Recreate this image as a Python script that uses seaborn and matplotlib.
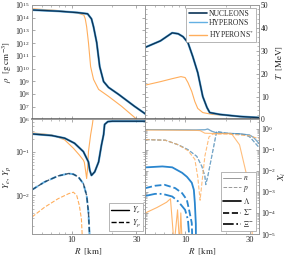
import matplotlib
matplotlib.use("Agg")
import matplotlib.pyplot as plt
import matplotlib.ticker as mticker
from matplotlib.lines import Line2D
import seaborn as sns

# colours of the three models
c_nuc = "#0c3456"
c_hyp = "#63b0e3"
c_hys = "#ffae5c"
c_lam = "#2a86cf"

# density profile [g/cm^3]
r_rho_nuc = [5.1, 8.0, 11.0, 13.1, 14.0, 14.5, 15.3, 16.1, 17.2, 18.7, 22.2, 29.0, 35.0]
rho_nuc = [4.0e14, 3.2e14, 2.5e14, 2.0e14, 8.0e13, 1.9e13, 1.1e12, 1.4e10, 9.5e8, 3.3e8, 9.3e7, 1.1e7, 2.7e6]
r_rho_hys = [5.1, 8.0, 11.0, 12.3, 12.6, 12.9, 13.3, 13.8, 14.5, 15.8, 18.7, 23.3, 29.0, 32.0]
rho_hys = [5.0e14, 3.6e14, 2.3e14, 1.6e14, 8.0e13, 1.9e13, 1.1e12, 1.4e10, 1.4e9, 2.3e8, 6.5e7, 1.1e7, 1.5e6, 6.0e5]

# temperature profile [MeV]
r_t_nuc = [5.1, 6.58, 8.03, 8.89, 9.67, 10.5, 11.4, 12.4, 13.5, 14.5, 15.2, 18.0, 25.2, 35.0]
t_nuc = [31.5, 34.3, 37.8, 37.4, 36.1, 33.5, 27.4, 20.4, 10.0, 5.2, 3.0, 2.2, 1.3, 0.8]
r_t_hys = [5.1, 6.58, 8.03, 9.32, 10.0, 10.5, 11.2, 11.8, 12.4, 13.5, 15.9, 25.2, 35.0]
t_hys = [15.0, 16.5, 17.8, 18.7, 18.3, 16.1, 12.2, 7.8, 4.8, 3.0, 2.2, 1.3, 0.9]

# electron and proton fractions
r_ye_nuc = [5.1, 7.13, 8.88, 10.5, 12.2, 13.3, 13.6, 14.0, 14.8, 15.8, 16.6, 17.2, 17.5, 18.5, 20.0, 35.0]
ye_nuc = [0.26, 0.239, 0.208, 0.159, 0.102, 0.059, 0.038, 0.029, 0.035, 0.059, 0.146, 0.25, 0.43, 0.5, 0.51, 0.51]
r_ye_hys = [5.1, 7.13, 8.88, 10.3, 11.4, 12.2, 12.4, 12.7, 12.9, 13.1, 13.3, 13.8, 14.2, 14.6, 35.0]
ye_hys = [0.275, 0.248, 0.19, 0.122, 0.085, 0.065, 0.058, 0.035, 0.0245, 0.042, 0.102, 0.248, 0.42, 0.8, 0.8]
r_yp_nuc = [5.1, 6.3, 7.93, 9.5, 10.3, 11.2, 12.2, 12.9, 13.3, 13.6, 13.7]
yp_nuc = [0.0135, 0.0204, 0.0281, 0.032, 0.0308, 0.0267, 0.0187, 0.01, 0.0041, 0.001, 1e-4]
r_yp_hys = [5.1, 6.3, 7.93, 9.5, 10.3, 10.9, 11.4, 11.8, 12.0, 12.1]
yp_hys = [0.0032, 0.00534, 0.0084, 0.011, 0.0119, 0.01, 0.00585, 0.00287, 0.001, 1e-4]

# particle fractions
r_n = [5.1, 8.0, 12.0, 14.0, 14.7, 15.7, 17.1, 20.0, 25.0, 29.8, 32.0, 35.0]
x_n = [0.9, 0.88, 0.86, 0.88, 0.95, 0.75, 0.62, 0.6, 0.57, 0.5, 0.38, 0.2]
r_n_hys = [5.1, 8.0, 12.0, 12.9, 14.0, 17.0, 22.0, 25.2, 28.4, 30.9, 31.5]
x_n_hys = [0.85, 0.84, 0.82, 0.8, 0.6, 0.58, 0.57, 0.17, 6.5e-3, 2.4e-4, 1e-6]
r_p = [5.1, 7.16, 8.9, 10.5, 12.2, 13.3, 14.0, 14.2, 14.7, 17.1, 20.0, 25.0, 28.0, 30.0, 32.0, 35.0]
x_p = [0.3, 0.28, 0.17, 0.1, 0.048, 0.016, 0.0054, 0.0022, 0.0054, 0.74, 0.6, 0.55, 0.5, 0.4, 0.25, 0.13]
r_p_hys = [5.1, 7.16, 8.9, 10.5, 11.8, 12.4, 12.9, 13.4, 14.0, 15.0, 16.0, 20.0, 25.0, 30.0, 35.0]
x_p_hys = [0.3, 0.28, 0.17, 0.09, 0.035, 0.005, 0.0004, 0.004, 0.05, 0.4, 0.55, 0.55, 0.5, 0.45, 0.33]
r_lam = [5.1, 6.8, 8.04, 9.5, 10.3, 10.5, 11.2, 11.6, 11.8, 12.0, 12.05]
x_lam = [0.0144, 0.016, 0.0145, 0.008, 0.0052, 0.0045, 0.0027, 0.00125, 3e-4, 3e-5, 1e-6]
r_sig = [5.1, 6.0, 7.06, 8.45, 9.5, 10.3, 10.7, 11.2, 11.4]
x_sig = [0.0015, 0.00194, 0.00215, 0.0015, 8.7e-4, 4.2e-4, 1.4e-4, 3.3e-5, 1e-6]
r_xi = [5.1, 6.0, 6.8, 8.04, 8.9, 10.0, 10.5, 11.0]
x_xi = [6.4e-4, 8e-4, 8e-4, 6e-4, 3.5e-4, 1.4e-4, 4.7e-5, 1e-6]
r_lam_hys = [5.1, 6.2, 7.3, 7.8, 8.3, 8.8, 9.1, 9.3, 9.6]
x_lam_hys = [1.0e-4, 1.8e-4, 3.2e-4, 4.7e-4, 3e-6, 1.4e-4, 3e-6, 1.0e-4, 1e-6]

sns.set_theme(style="ticks")
plt.rcParams["font.family"] = ["Liberation Serif", "DejaVu Serif"]
plt.rcParams["mathtext.fontset"] = "stix"


def line(ax, x, y, color, lw=1.0, ls="-", alpha=1.0, z=2):
    sns.lineplot(x=x, y=y, ax=ax, color=color, lw=lw, linestyle=ls,
                 alpha=alpha, estimator=None, sort=False, zorder=z)


fig, axes = plt.subplots(2, 2, figsize=(2.87, 2.58), dpi=100, sharex=True)
fig.subplots_adjust(left=0.1115, right=0.902, bottom=0.093, top=0.981,
                    wspace=0, hspace=0)
ax_rho, ax_t = axes[0]
ax_y, ax_x = axes[1]

for ax in axes.flat:
    ax.set_xscale("log")
for ax in (ax_rho, ax_y, ax_x):
    ax.set_yscale("log")

# density
line(ax_rho, r_rho_hys, rho_hys, c_hys, lw=0.8)
line(ax_rho, r_rho_nuc, rho_nuc, c_hyp, lw=1.6)
line(ax_rho, r_rho_nuc, rho_nuc, c_nuc, lw=1.0)

# temperature
line(ax_t, r_t_hys, t_hys, c_hys, lw=0.8)
line(ax_t, r_t_nuc, t_nuc, c_hyp, lw=1.6)
line(ax_t, r_t_nuc, t_nuc, c_nuc, lw=1.0)

# Ye / Yp
line(ax_y, r_ye_hys, ye_hys, c_hys, lw=0.8)
line(ax_y, r_yp_hys, yp_hys, c_hys, lw=0.8, ls="--")
line(ax_y, r_ye_nuc, ye_nuc, c_hyp, lw=1.6)
line(ax_y, r_ye_nuc, ye_nuc, c_nuc, lw=1.0)
line(ax_y, r_yp_nuc, yp_nuc, c_hyp, lw=1.4, ls="--")
line(ax_y, r_yp_nuc, yp_nuc, c_nuc, lw=1.0, ls="--", alpha=0.8)

# particle fractions
line(ax_x, r_n, x_n, c_nuc, lw=0.8, alpha=0.45)
line(ax_x, r_n, x_n, c_hyp, lw=0.8, alpha=0.6)
line(ax_x, r_p, x_p, c_nuc, lw=0.8, ls="--", alpha=0.5)
line(ax_x, r_p, x_p, c_hyp, lw=0.8, ls="--", alpha=0.6)
line(ax_x, r_n_hys, x_n_hys, c_hys, lw=0.8, alpha=0.8)
line(ax_x, r_p_hys, x_p_hys, c_hys, lw=0.8, ls="--", alpha=0.8)
line(ax_x, r_lam_hys, x_lam_hys, c_hys, lw=0.8, alpha=0.9)
line(ax_x, r_lam, x_lam, c_lam, lw=1.3)
line(ax_x, r_sig, x_sig, c_lam, lw=1.3, ls="--")
line(ax_x, r_xi, x_xi, c_lam, lw=1.3, ls="-.")

# limits
ax_rho.set_xlim(5.1, 35)
ax_rho.set_ylim(1e6, 1e15)
ax_t.set_ylim(0, 50)
ax_y.set_ylim(1.3e-3, 0.56)
ax_x.set_ylim(1e-5, 2.7)

tick_fs = 5.5
for ax in axes.flat:
    ax.xaxis.set_major_locator(mticker.FixedLocator([10, 30]))
    ax.xaxis.set_minor_locator(mticker.FixedLocator([6, 7, 8, 9, 20]))
    ax.xaxis.set_major_formatter(mticker.ScalarFormatter())
    ax.xaxis.set_minor_formatter(mticker.NullFormatter())
    ax.tick_params(which="both", direction="in", top=True, right=True,
                   left=True, bottom=True, labelsize=tick_fs, color="#888888",
                   pad=1.5)
    ax.tick_params(which="major", length=2.5, width=0.5)
    ax.tick_params(which="minor", length=1.3, width=0.4)
    ax.set_xlabel("")
    ax.set_ylabel("")
    for s in ax.spines.values():
        s.set_color("#999999")
        s.set_linewidth(0.7)
ax_y.tick_params(axis="x", labelsize=6)
ax_x.tick_params(axis="x", labelsize=6)

ax_rho.yaxis.set_major_locator(mticker.LogLocator(base=10, numticks=20))
ax_rho.yaxis.set_minor_locator(mticker.NullLocator())
ax_x.yaxis.set_major_locator(mticker.LogLocator(base=10, numticks=20))
ax_t.yaxis.set_major_locator(mticker.MultipleLocator(10))
ax_t.yaxis.set_minor_locator(mticker.MultipleLocator(2))
for ax in (ax_y, ax_x):
    ax.yaxis.set_minor_formatter(mticker.NullFormatter())

for ax in (ax_t, ax_x):
    ax.yaxis.tick_right()
    ax.tick_params(which="both", left=True, right=True, labelleft=False,
                   labelright=True)
    ax.yaxis.set_label_position("right")
for ax in (ax_rho, ax_t):
    ax.tick_params(labelbottom=False)
    ax.spines["bottom"].set_color("#5a5a5a")
    ax.spines["bottom"].set_linewidth(1.1)

lab_fs = 6.5
ax_rho.set_ylabel(r"$\rho\ \ [\mathrm{g\ cm^{-3}}]$", fontsize=lab_fs)
ax_t.set_ylabel(r"$T\ \ [\mathrm{MeV}]$", fontsize=lab_fs)
ax_y.set_ylabel(r"$Y_e,\ Y_p$", fontsize=lab_fs)
ax_x.set_ylabel(r"$X_i$", fontsize=lab_fs)
ax_rho.yaxis.set_label_coords(-0.16, 0.5)
ax_y.yaxis.set_label_coords(-0.165, 0.5)
ax_t.yaxis.set_label_coords(1.14, 0.5)
ax_x.yaxis.set_label_coords(1.16, 0.5)
ax_y.set_xlabel(r"$R\ \ [\mathrm{km}]$", fontsize=lab_fs, labelpad=1)
ax_x.set_xlabel(r"$R\ \ [\mathrm{km}]$", fontsize=lab_fs, labelpad=1)

leg_kw = dict(fontsize=5.5, frameon=True, fancybox=False, edgecolor="#999999",
              framealpha=1, borderpad=0.3, labelspacing=0.15, handlelength=2.4,
              handletextpad=0.3, borderaxespad=0.35)

h_model = [Line2D([], [], color=c_nuc, lw=1.2),
           Line2D([], [], color=c_hyp, lw=1.0),
           Line2D([], [], color=c_hys, lw=1.0)]
lg = ax_t.legend(h_model, ["NUCLEONS", "HYPERONS", r"HYPERONS$^{*}$"],
                 loc="upper right", **leg_kw)
lg.get_frame().set_linewidth(0.5)

h_y = [Line2D([], [], color="black", lw=1.0),
       Line2D([], [], color="black", lw=1.0, ls="--")]
lg = ax_y.legend(h_y, [r"$Y_e$", r"$Y_p$"], loc="lower right", **leg_kw)
lg.get_frame().set_linewidth(0.5)

h_x = [Line2D([], [], color="#999999", lw=0.7),
       Line2D([], [], color="#999999", lw=0.7, ls="--"),
       Line2D([], [], color="black", lw=1.2),
       Line2D([], [], color="black", lw=1.2, ls="--"),
       Line2D([], [], color="black", lw=1.2, ls="-.")]
lg = ax_x.legend(h_x, [r"$n$", r"$p$", r"$\Lambda$", r"$\Sigma^{-}$", r"$\Xi^{-}$"],
                 loc="lower right", **dict(leg_kw, labelspacing=0.22))
lg.get_frame().set_linewidth(0.5)

fig.savefig("out.png", dpi=100)
